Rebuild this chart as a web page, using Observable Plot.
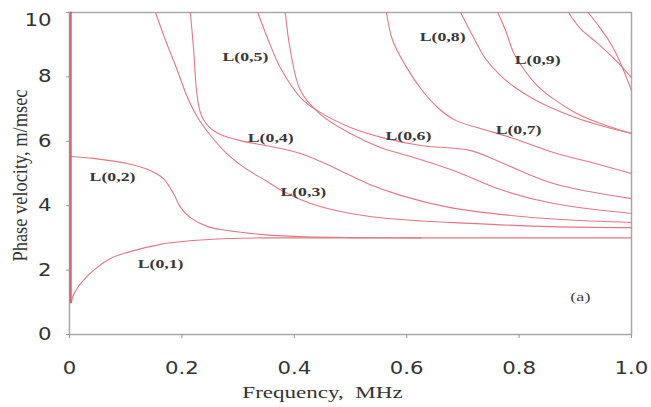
<!DOCTYPE html>
<html><head><meta charset="utf-8">
<script src="https://cdn.jsdelivr.net/npm/d3@7"></script>
<script src="https://cdn.jsdelivr.net/npm/@observablehq/plot@0.6"></script>
<style>body{margin:0;background:#fff} svg{display:block}</style>
</head><body><div id="chart"></div>
<script>
// axis ticks
const xTicks = [0, 0.2, 0.4, 0.6, 0.8, 1.0];
const xTickLabels = ["0", "0.2", "0.4", "0.6", "0.8", "1.0"];
const yTicks = [0, 2, 4, 6, 8, 10];

// dispersion curves: [frequency MHz, phase velocity m/msec]
const curveV0 = [[0.002, 10], [0.002, 1.0]];
const curveL01 = [[0.0036, 0.99], [0.0053, 1.15], [0.0125, 1.40], [0.0196, 1.58], [0.0427, 1.99], [0.073, 2.36], [0.103, 2.55], [0.162, 2.80], [0.221, 2.92], [0.281, 2.98], [0.34, 3.0], [0.5, 3.0], [1.0, 3.0]];
const curveL02 = [[0.0036, 5.53], [0.043, 5.47], [0.103, 5.31], [0.144, 5.09], [0.167, 4.84], [0.185, 4.38], [0.198, 3.94], [0.215, 3.63], [0.246, 3.35], [0.281, 3.23], [0.34, 3.11], [0.411, 3.04], [0.5, 3.01], [0.625, 3.0]];
const curveL03 = [[0.153, 10], [0.171, 9.13], [0.192, 8.2], [0.21, 7.36], [0.228, 6.74], [0.251, 6.18], [0.278, 5.65], [0.313, 5.16], [0.349, 4.78], [0.384, 4.41], [0.429, 4.07], [0.5, 3.76], [0.589, 3.57], [0.714, 3.45], [0.856, 3.35], [1.0, 3.32]];
const curveL04 = [[0.215, 10], [0.221, 8.82], [0.226, 7.58], [0.233, 6.89], [0.246, 6.49], [0.269, 6.21], [0.304, 6.02], [0.358, 5.84], [0.411, 5.62], [0.47, 5.19], [0.53, 4.69], [0.589, 4.32], [0.678, 3.94], [0.767, 3.73], [0.874, 3.57], [1.0, 3.48]];
const curveL05 = [[0.335, 10], [0.354, 9.13], [0.375, 8.29], [0.411, 7.36], [0.443, 6.93], [0.5, 6.43], [0.562, 6.09], [0.625, 5.87], [0.714, 5.71], [0.772, 5.31], [0.861, 4.69], [1.0, 4.22]];
const curveL06 = [[0.384, 10], [0.393, 8.82], [0.411, 7.58], [0.447, 6.83], [0.5, 6.24], [0.553, 5.81], [0.612, 5.5], [0.683, 5.09], [0.772, 4.47], [0.861, 4.07], [1.0, 3.76]];
const curveL07 = [[0.564, 10], [0.575, 9.13], [0.598, 8.35], [0.625, 7.64], [0.655, 7.05], [0.687, 6.65], [0.731, 6.4], [0.785, 6.12], [0.861, 5.65], [0.936, 5.31], [1.0, 5.0]];
const curveL08 = [[0.696, 10], [0.717, 9.29], [0.74, 8.57], [0.767, 8.04], [0.793, 7.67], [0.824, 7.33], [0.856, 7.05], [0.9, 6.74], [0.945, 6.49], [1.0, 6.24]];
const curveL09 = [[0.762, 10], [0.776, 9.44], [0.790, 8.76], [0.81, 8.2], [0.834, 7.7], [0.865, 7.27], [0.9, 6.89], [0.945, 6.55], [1.0, 6.24]];
const curveL10 = [[0.888, 10], [0.909, 9.5], [0.94, 9.04], [0.972, 8.51], [1.0, 7.98]];
const curveL11 = [[0.923, 10], [0.945, 9.5], [0.963, 9.04], [0.98, 8.45], [1.0, 7.58]];
const curves = [curveL01, curveL02, curveL03, curveL04, curveL05, curveL06, curveL07, curveL08, curveL09, curveL10, curveL11];

// mode labels
const labelNames = ["L(0,1)", "L(0,2)", "L(0,3)", "L(0,4)", "L(0,5)", "L(0,6)", "L(0,7)", "L(0,8)", "L(0,9)"];
const labelF = [0.162, 0.0765, 0.416, 0.358, 0.313, 0.603, 0.799, 0.664, 0.833];
const labelV = [2.2, 4.88, 4.44, 6.09, 8.63, 6.18, 6.34, 9.25, 8.51];
const panelTag = "(a)";
const panelF = 0.909, panelV = 1.18;
const xTitle = "Frequency,\u00a0 MHz";
const yTitle = "Phase velocity, m/msec";

const labels = labelNames.map((t, i) => ({t, f: labelF[i], v: labelV[i]}));
const red = "#e27883";

const svg = Plot.plot({
  width: 651, height: 407,
  marginLeft: 69, marginRight: 20, marginTop: 12, marginBottom: 73,
  x: {domain: [0, 1]},
  y: {domain: [0, 10]},
  marks: [
    Plot.frame({stroke: "#a8a8a8", strokeWidth: 1.5}),
    Plot.axisX(xTicks, {tickFormat: d => xTickLabels[xTicks.indexOf(d)], tickSize: 4, tickPadding: 23, fontSize: 17, fontFamily: "DejaVu Sans", color: "#333", stroke: "#999", label: null}),
    Plot.axisY(yTicks, {tickSize: 3, tickPadding: 15, fontSize: 17, fontFamily: "DejaVu Sans", color: "#333", stroke: "#999", label: null}),
    ...curves.map(c => Plot.line(c, {x: d => d[0], y: d => d[1], stroke: red, strokeWidth: 1.1, curve: "catmull-rom"})),
    Plot.line(curveV0, {x: d => d[0], y: d => d[1], stroke: "#d8606c", strokeWidth: 2.2}),
    Plot.text(labels, {x: "f", y: "v", text: "t", fontFamily: "Liberation Serif", fontWeight: "bold", fontSize: 12.5, fill: "#383838"}),
    Plot.text([panelTag], {x: () => panelF, y: () => panelV, text: d => d, fontFamily: "Liberation Serif", fontSize: 13, fill: "#444"}),
    Plot.text([xTitle], {frameAnchor: "bottom", textAnchor: "middle", lineAnchor: "middle", dx: -28, dy: 58, fontFamily: "Liberation Serif", fontSize: 16, fill: "#333"}),
    Plot.text([yTitle], {frameAnchor: "left", textAnchor: "middle", lineAnchor: "middle", rotate: -90, dx: -49, dy: 2, fontFamily: "Liberation Serif", fontSize: 16, fill: "#333"})
  ]
});
document.getElementById("chart").appendChild(svg);

// post-process: horizontal stretch of text like the reference
const sel = d3.select(svg);
function num(v) { const n = parseFloat(v); return isFinite(n) ? n : 0; }
function addTransform(node, extra) {
  const x = num(node.getAttribute("x")), y = num(node.getAttribute("y"));
  const t = node.getAttribute("transform") || "";
  node.setAttribute("transform", `${t} translate(${x},${y}) ${extra} translate(${-x},${-y})`);
}
sel.selectAll('g[aria-label="y-axis tick label"] text').filter(function () { return this.textContent === "10"; })
  .each(function () { addTransform(this, "translate(0,8)"); });
function stretch(q, sx, sy) { sel.selectAll(q).each(function () { addTransform(this, `scale(${sx},${sy})`); }); }
stretch('g[aria-label="x-axis tick label"] text', 1.25, 1);
stretch('g[aria-label="y-axis tick label"] text', 1.25, 1);
sel.selectAll("text").each(function () {
  const s = this.textContent;
  if (labelNames.includes(s)) addTransform(this, "scale(1.42,1)");
  else if (s === panelTag) addTransform(this, "scale(1.4,1)");
  else if (s === xTitle) addTransform(this, "scale(1.44,1)");
  else if (s === yTitle) addTransform(this, "scale(1.15,1.3)");
});
</script></body></html>
